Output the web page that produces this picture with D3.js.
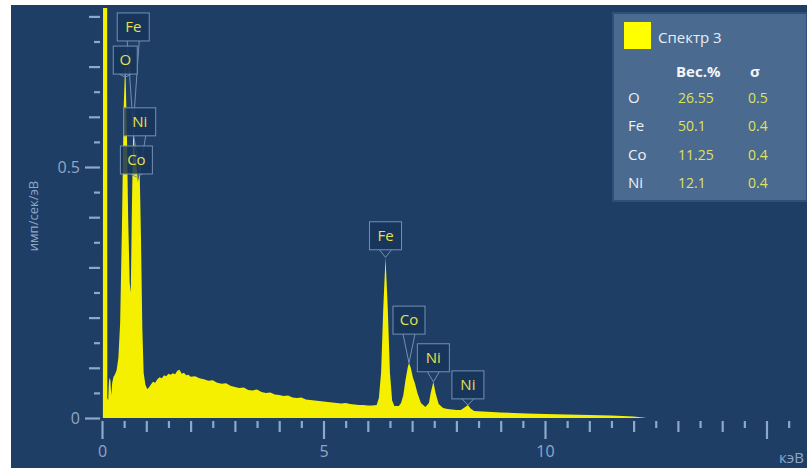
<!DOCTYPE html>
<html>
<head>
<meta charset="utf-8">
<script src="https://cdn.jsdelivr.net/npm/d3@7"></script>
<style>
  html, body { margin: 0; padding: 0; background: #fff; }
  svg { display: block; }
</style>
</head>
<body>
<script>
// spectrum (keV, imp/sec/eV)
const energy = [
  0, 0.02, 0.025, 0.115, 0.12, 0.14, 0.155, 0.17, 0.19, 0.21, 0.23, 0.26, 0.29, 0.33, 0.37, 0.41, 0.45, 0.49,
  0.525, 0.56, 0.59, 0.625, 0.65, 0.675, 0.705, 0.74, 0.776, 0.81, 0.851, 0.88, 0.91, 0.94, 0.98,
  1.02, 1.06, 1.10, 1.15, 1.20, 1.25, 1.30, 1.35, 1.40, 1.45, 1.50, 1.55, 1.60, 1.65, 1.70, 1.75, 1.80, 1.85, 1.90, 1.95,
  2.0, 2.1, 2.2, 2.3, 2.4, 2.5, 2.6, 2.7, 2.8, 2.9, 3.0, 3.1, 3.2, 3.3, 3.4, 3.5, 3.6, 3.7, 3.8, 3.9,
  4.0, 4.1, 4.2, 4.3, 4.4, 4.5, 4.6, 4.7, 4.8, 4.9, 5.0, 5.1, 5.2, 5.3, 5.4, 5.5, 5.6, 5.7, 5.8, 5.9,
  6.0, 6.1, 6.2, 6.25, 6.3, 6.35, 6.40, 6.45, 6.5, 6.55, 6.6, 6.7, 6.75, 6.8, 6.85, 6.9, 6.93, 6.97,
  7.02, 7.06, 7.12, 7.2, 7.3, 7.38, 7.42, 7.48, 7.53, 7.6, 7.65, 7.7, 7.8, 7.9, 8.0, 8.1, 8.2, 8.26,
  8.32, 8.4, 8.6, 8.8, 9.0, 9.3, 9.6, 10.0, 10.5, 11.0, 11.5, 12.0, 12.3
];
const counts = [
  0, 0, 1.2, 1.2, 0.04, 0.035, 0.07, 0.08, 0.075, 0.045, 0.07, 0.082, 0.086, 0.095, 0.12, 0.19, 0.38, 0.62,
  0.71, 0.58, 0.40, 0.27, 0.25, 0.42, 0.58, 0.53, 0.51, 0.47, 0.49, 0.36, 0.18, 0.09, 0.066,
  0.058, 0.061, 0.066, 0.072, 0.070, 0.077, 0.081, 0.079, 0.085, 0.083, 0.088, 0.086, 0.089, 0.087, 0.094, 0.096, 0.088, 0.090, 0.085, 0.086,
  0.082, 0.083, 0.079, 0.077, 0.074, 0.075, 0.070, 0.068, 0.069, 0.064, 0.062, 0.060, 0.061, 0.056, 0.055, 0.057, 0.052, 0.050, 0.051, 0.047,
  0.046, 0.044, 0.045, 0.041, 0.040, 0.041, 0.037, 0.036, 0.035, 0.034, 0.033, 0.032, 0.031, 0.030, 0.029, 0.030, 0.028, 0.027, 0.026, 0.026,
  0.025, 0.025, 0.026, 0.04, 0.09, 0.22, 0.32, 0.22, 0.09, 0.035, 0.024, 0.024, 0.03, 0.045, 0.075, 0.10, 0.11, 0.10,
  0.08, 0.07, 0.05, 0.03, 0.022, 0.03, 0.05, 0.072, 0.05, 0.028, 0.024, 0.02, 0.018, 0.017, 0.016, 0.016, 0.022, 0.026,
  0.019, 0.014, 0.013, 0.012, 0.011, 0.010, 0.009, 0.008, 0.007, 0.006, 0.005, 0.003, 0
];

// peak labels
const peakNames = ["Fe", "O", "Ni", "Co", "Fe", "Co", "Ni", "Ni"];
const peakKeV   = [0.705, 0.525, 0.851, 0.776, 6.40, 6.93, 7.48, 8.26];
const peakBoxAt = [0.779, 0.713, 0.59, 0.514, 0.363, 0.195, 0.12, 0.066];

// legend table
const legendTitle = "Спектр 3";
const legendElements = ["O", "Fe", "Co", "Ni"];
const legendWeight = ["26.55", "50.1", "11.25", "12.1"];
const legendSigma = ["0.5", "0.4", "0.4", "0.4"];

const xTickLabels = [0, 5, 10];
const yTickLabels = [0, 0.5];

const W = 807, H = 471;
const plotLeft = 102, plotBottom = 418, plotTop = 6;
const bg = "#1f3e66", axisCol = "#8ea8c9", yellow = "#f4f000";
const font = "'Open Sans', 'DejaVu Sans', sans-serif";

const x = d3.scaleLinear([0, (W - plotLeft) / 44.3], [plotLeft, W]);
const y = d3.scaleLinear([0, (plotBottom - plotTop) / 502], [plotBottom, plotTop]);

const svg = d3.select("body").append("svg")
    .attr("width", W)
    .attr("height", H)
    .attr("font-family", font);

svg.append("rect")
    .attr("x", 11).attr("y", 5)
    .attr("width", W - 11).attr("height", 463)
    .attr("fill", bg);

svg.append("defs").append("clipPath")
    .attr("id", "plot-clip")
    .append("rect")
    .attr("x", plotLeft).attr("y", plotTop + 2)
    .attr("width", W - plotLeft).attr("height", plotBottom - plotTop - 2);

const area = d3.area()
    .x(i => x(energy[i]))
    .y0(y(0))
    .y1(i => y(counts[i]));

svg.append("path")
    .attr("clip-path", "url(#plot-clip)")
    .attr("d", area(d3.range(energy.length)))
    .attr("fill", yellow);

// x axis: half keV ticks, longer on whole keV, longest on every 5
const xAxis = d3.axisBottom(x)
    .tickValues(d3.range(0, 15.51, 0.5))
    .tickSizeOuter(0)
    .tickFormat(d => xTickLabels.includes(d) ? d : "");

svg.append("g")
    .attr("transform", `translate(0,${plotBottom + 2})`)
    .call(xAxis)
    .call(g => g.select(".domain").remove())
    .call(g => g.selectAll(".tick line")
        .attr("stroke", axisCol)
        .attr("stroke-width", 2.2)
        .attr("y1", 1)
        .attr("y2", d => d % 5 === 0 ? 19 : (d % 1 === 0 ? 12 : 8)))
    .call(g => g.selectAll(".tick text")
        .attr("fill", axisCol)
        .attr("font-size", 16)
        .attr("font-family", font)
        .attr("y", 26));

// y axis
const yAxis = d3.axisLeft(y)
    .tickValues(d3.range(0, 0.81, 0.05).map(v => +v.toFixed(2)))
    .tickSizeOuter(0)
    .tickFormat(d => yTickLabels.includes(d) ? d : "");

svg.append("g")
    .attr("transform", `translate(${plotLeft - 2},0)`)
    .call(yAxis)
    .call(g => g.select(".domain").remove())
    .call(g => g.selectAll(".tick line")
        .attr("stroke", axisCol)
        .attr("stroke-width", 2.2)
        .attr("x2", d => Math.round(d * 100) % 50 === 0 ? -15 : (Math.round(d * 100) % 10 === 0 ? -11 : -6)))
    .call(g => g.selectAll(".tick text")
        .attr("fill", axisCol)
        .attr("font-size", 16)
        .attr("font-family", font)
        .attr("x", -20));

svg.append("text")
    .attr("transform", `translate(38,${(plotBottom + plotTop) / 2 + 4}) rotate(-90)`)
    .attr("text-anchor", "middle")
    .attr("fill", axisCol)
    .attr("font-size", 13)
    .text("имп/сек/эВ");

svg.append("text")
    .attr("x", 779).attr("y", 463)
    .attr("fill", axisCol)
    .attr("font-size", 15)
    .text("кэВ");

// peak labels with pointers
const heightAt = e => counts[d3.minIndex(energy, v => Math.abs(v - e))];
const boxH = 28;
const lab = svg.append("g").attr("font-size", 15);
peakNames.forEach((name, i) => {
  const px = x(peakKeV[i]);
  const cy = y(peakBoxAt[i]);
  const w = name.length > 1 ? 32 : 24;
  const py = Math.max(y(heightAt(peakKeV[i])), cy + boxH / 2 + 3);
  lab.append("path")
      .attr("d", `M${px - 6},${cy + boxH / 2}L${px},${py}L${px + 6},${cy + boxH / 2}`)
      .attr("fill", "none")
      .attr("stroke", "#7390b3")
      .attr("stroke-width", 1);
  lab.append("rect")
      .attr("x", px - w / 2).attr("y", cy - boxH / 2)
      .attr("width", w).attr("height", boxH)
      .attr("fill", "#17345a")
      .attr("fill-opacity", 0.85)
      .attr("stroke", "#7390b3")
      .attr("stroke-width", 1);
  lab.append("text")
      .attr("x", px).attr("y", cy + 5)
      .attr("text-anchor", "middle")
      .attr("fill", "#e4e14c")
      .text(name);
});

// legend panel
const leg = svg.append("g").attr("transform", "translate(613,13)");
leg.append("rect")
    .attr("width", W - 613).attr("height", 188)
    .attr("fill", "#4b6a8f")
    .attr("stroke", "#2f4f78")
    .attr("stroke-width", 2);
leg.append("rect")
    .attr("x", 11).attr("y", 9)
    .attr("width", 27).attr("height", 27)
    .attr("fill", "#ffff00");
leg.append("text")
    .attr("x", 45).attr("y", 30)
    .attr("fill", "#e8eef6")
    .attr("font-size", 15)
    .text(legendTitle);
leg.append("text")
    .attr("x", 63).attr("y", 64)
    .attr("fill", "#f2f5fa")
    .attr("font-size", 15)
    .attr("font-weight", "bold")
    .text("Вес.%");
leg.append("text")
    .attr("x", 137).attr("y", 64)
    .attr("fill", "#f2f5fa")
    .attr("font-size", 15)
    .attr("font-weight", "bold")
    .text("σ");
legendElements.forEach((el, i) => {
  const by = 90 + i * 28.3;
  leg.append("text").attr("x", 15).attr("y", by)
      .attr("fill", "#edf1f7").attr("font-size", 15).text(el);
  leg.append("text").attr("x", 65).attr("y", by)
      .attr("fill", "#dfe25a").attr("font-size", 14).text(legendWeight[i]);
  leg.append("text").attr("x", 135).attr("y", by)
      .attr("fill", "#dfe25a").attr("font-size", 14).text(legendSigma[i]);
});
</script>
</body>
</html>
